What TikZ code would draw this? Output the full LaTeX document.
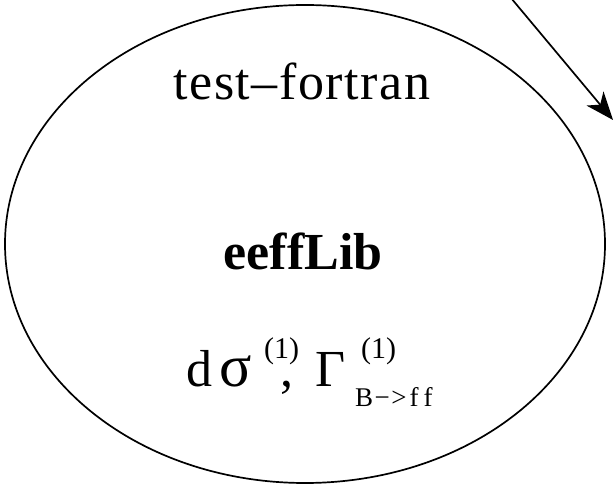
\documentclass[tikz,border=0pt]{standalone}
\usepackage{fontspec}
\setmainfont{Liberation Serif}
\usetikzlibrary{arrows.meta,shapes.geometric}
\begin{document}
\begin{tikzpicture}[x=1pt,y=1pt,
  big/.style={font=\fontsize{52}{60}\selectfont, inner sep=0pt},
  sup/.style={font=\fontsize{30}{34}\selectfont, inner sep=0pt},
  sub/.style={font=\fontsize{27}{30}\selectfont, inner sep=0pt},
  outline/.style={draw, ellipse, line width=1.7pt, inner sep=0pt},
  link/.style={line width=1.7pt, -{Stealth[length=28pt,width=22pt,inset=8pt]}}]
\useasboundingbox (0,0) rectangle (613,487);
\node[outline, minimum width=600pt, minimum height=478pt] (lib) at (305,243) {};
\node[big, anchor=base, font=\fontsize{52}{60}\selectfont\addfontfeatures{LetterSpace=3}] (title) at (302,387) {test–fortran};
\node[big, anchor=base, font=\fontsize{52}{60}\selectfont\bfseries] (name) at (303,217) {eeffLib};
\node[big, anchor=base west] (d) at (186,100) {d};
\node[big, anchor=base west, font=\fontsize{60}{66}\selectfont] (sigma) at (219,100) {σ};
\node[sup, anchor=base west] (s1) at (264,128) {(1)};
\node[big, anchor=base west] (comma) at (280,100) {,};
\node[big, anchor=base west] (gamma) at (315,100) {Γ};
\node[sup, anchor=base west] (s2) at (361,128) {(1)};
\node[sub, anchor=base west] (bff) at (355,80) {B\kern1.5pt−\kern1.5pt>\kern3pt f\kern5pt f};
\coordinate (src) at (506,495);
\coordinate (dst) at (613,367);
\draw[link] (src) -- (dst);
\end{tikzpicture}
\end{document}
